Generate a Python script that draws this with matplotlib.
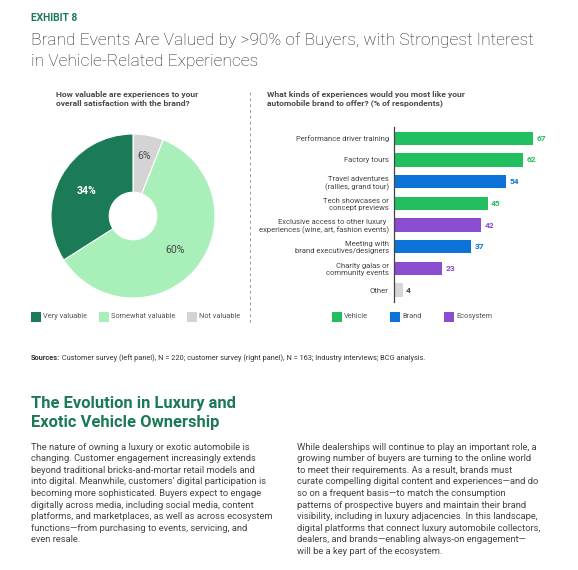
import matplotlib
matplotlib.use("Agg")
import matplotlib.pyplot as plt
import numpy as np

# ---------------- data ----------------
pie_labels = ["Very valuable", "Somewhat valuable", "Not valuable"]
pie_values = [34, 60, 6]

bar_categories = [
    "Performance driver training",
    "Factory tours",
    "Travel adventures\n(rallies, grand tour)",
    "Tech showcases or\nconcept previews",
    "Exclusive access to other luxury \nexperiences (wine, art, fashion events)",
    "Meeting with\nbrand executives/designers",
    "Charity galas or\ncommunity events",
    "Other",
]
bar_values = [67, 62, 54, 45, 42, 37, 23, 4]
bar_groups = ["Vehicle", "Vehicle", "Brand", "Vehicle", "Ecosystem", "Brand", "Ecosystem", "Other"]
group_names = ["Vehicle", "Brand", "Ecosystem"]

exhibit_label = "EXHIBIT 8"
title_text = "Brand Events Are Valued by >90% of Buyers, with Strongest Interest\nin Vehicle-Related Experiences"
left_question = "How valuable are experiences to your\noverall satisfaction with the brand?"
right_question = "What kinds of experiences would you most like your\nautomobile brand to offer? (% of respondents)"
sources_bold = "Sources:"
sources_text = " Customer survey (left panel), N = 220; customer survey (right panel), N = 163; Industry interviews; BCG analysis."
heading_text = "The Evolution in Luxury and\nExotic Vehicle Ownership"
body_left = [
    "The nature of owning a luxury or exotic automobile is",
    "changing. Customer engagement increasingly extends",
    "beyond traditional bricks-and-mortar retail models and",
    "into digital. Meanwhile, customers\u2019 digital participation is",
    "becoming more sophisticated. Buyers expect to engage",
    "digitally across media, including social media, content",
    "platforms, and marketplaces, as well as across ecosystem",
    "functions\u2014from purchasing to events, servicing, and",
    "even resale.",
]
body_right = [
    "While dealerships will continue to play an important role, a",
    "growing number of buyers are turning to the online world",
    "to meet their requirements. As a result, brands must",
    "curate compelling digital content and experiences\u2014and do",
    "so on a frequent basis\u2014to match the consumption",
    "patterns of prospective buyers and maintain their brand",
    "visibility, including in luxury adjacencies. In this landscape,",
    "digital platforms that connect luxury automobile collectors,",
    "dealers, and brands\u2014enabling always-on engagement\u2014",
    "will be a key part of the ecosystem.",
]

# ---------------- style ----------------
W, H = 578, 570
FONT = ["Roboto", "DejaVu Sans"]
plt.rcParams["font.family"] = FONT
GREEN_DARK = "#1b7a55"
pie_colors = ["#1a7b56", "#a9efb9", "#d4d4d4"]
group_colors = {"Vehicle": "#22bf60", "Brand": "#0b73d7", "Ecosystem": "#8a4dd0", "Other": "#d6d6d6"}
label_colors = {"Vehicle": "#22bf60", "Brand": "#0b73d7", "Ecosystem": "#8a4dd0", "Other": "#444444"}

fig = plt.figure(figsize=(W / 100, H / 100), dpi=100)
fig.patch.set_facecolor("white")


def fx(x):
    return x / W


def fy(y):
    return 1 - y / H


def ftext(x, y, s, **kw):
    kw.setdefault("va", "center")
    kw.setdefault("ha", "left")
    return fig.text(fx(x), fy(y), s, **kw)


# header
ftext(31, 18, exhibit_label, fontsize=7.4, fontweight="bold", color=GREEN_DARK)
ftext(31, 50.5, title_text, fontsize=12.5, fontweight="light", color="#222222", linespacing=1.55)

# questions
ftext(56, 99, left_question, fontsize=6.1, fontweight="bold", color="#4a4a4a", linespacing=1.2)
ftext(267, 99, right_question, fontsize=6.1, fontweight="bold", color="#4a4a4a", linespacing=1.2)

# dashed separator
fig.add_artist(plt.Line2D([fx(250), fx(250)], [fy(92), fy(323)], transform=fig.transFigure,
                          color="#9a9a9a", lw=0.7, ls=(0, (3, 3))))

# ---------------- pie ----------------
cx, cy, R = 133, 216, 82
axp = fig.add_axes([fx(cx - R), fy(cy + R), 2 * R / W, 2 * R / H])
order = [2, 1, 0]  # clockwise from top: Not, Somewhat, Very
vals = [pie_values[i] for i in order]
cols = [pie_colors[i] for i in order]
wedges, _ = axp.pie(vals, colors=cols, startangle=90, counterclock=False, radius=1,
                    wedgeprops=dict(width=0.71, edgecolor="white", linewidth=0.8))
axp.set_xlim(-1, 1)
axp.set_ylim(-1, 1)
axp.set_aspect("equal")
axp.axis("off")
dists = {0: 0.64, 1: 0.66, 2: 0.74}
for w, idx in zip(wedges, order):
    ang = np.deg2rad((w.theta1 + w.theta2) / 2)
    d = dists[idx]
    is_dark = idx == 0
    axp.text(d * np.cos(ang), d * np.sin(ang), f"{pie_values[idx]}%",
             ha="center", va="center", fontsize=7.6,
             fontweight="bold" if is_dark else "normal",
             color="white" if is_dark else "#444444")

# pie legend
leg_y = 317
for name, col, x0 in zip(pie_labels, pie_colors, [31, 99, 187]):
    fig.add_artist(plt.Rectangle((fx(x0), fy(leg_y + 5)), 10 / W, 10 / H, transform=fig.transFigure,
                                 facecolor=col, edgecolor="none"))
    ftext(x0 + 12, leg_y, name, fontsize=5.3, color="#555555")

# ---------------- bars ----------------
x0b, ppu = 394.3, 2.075
xmax = 80
ytop, ybot = 127, 302
axb = fig.add_axes([fx(x0b), fy(ybot), xmax * ppu / W, (ybot - ytop) / H])
pos = np.arange(len(bar_values))
axb.barh(pos, bar_values, height=0.62, color=[group_colors[g] for g in bar_groups])
axb.set_xlim(0, xmax)
axb.set_ylim(len(bar_values) - 0.45, -0.52)
for s in ["top", "right", "bottom"]:
    axb.spines[s].set_visible(False)
axb.spines["left"].set_color("#444444")
axb.spines["left"].set_linewidth(0.9)
axb.set_xticks([])
axb.set_yticks(pos)
axb.set_yticklabels(bar_categories, fontsize=5.5, color="#444444", linespacing=1.2)
axb.tick_params(axis="y", length=0, pad=4)
for t in axb.get_yticklabels():
    t.set_multialignment("right")
for p, v, g in zip(pos, bar_values, bar_groups):
    axb.annotate(str(v), (v, p), xytext=(2.5, 0), textcoords="offset points",
                 ha="left", va="center", fontsize=6.0, fontweight="bold", color=label_colors[g])

for name, x0 in zip(group_names, [332, 390, 444]):
    fig.add_artist(plt.Rectangle((fx(x0), fy(leg_y + 5)), 10 / W, 10 / H, transform=fig.transFigure,
                                 facecolor=group_colors[name], edgecolor="none"))
    ftext(x0 + 12, leg_y, name, fontsize=5.3, color="#555555")

# ---------------- sources ----------------
t_src = ftext(31, 358, sources_bold, fontsize=5.3, fontweight="bold", color="#333333")
axp.annotate(sources_text, xy=(1, 0.5), xycoords=t_src, va="center", ha="left",
             fontsize=5.3, color="#333333", annotation_clip=False)

# ---------------- heading & body ----------------
ftext(31, 413, heading_text, fontsize=11.9, fontweight="bold", color=GREEN_DARK, linespacing=1.32)

line_h = 11.6
for i, line in enumerate(body_left):
    ftext(31, 447 + i * line_h, line, fontsize=6.75, color="#444444")
for i, line in enumerate(body_right):
    ftext(297, 447 + i * line_h, line, fontsize=6.75, color="#444444")

fig.savefig("out.png", dpi=100, facecolor="white")
